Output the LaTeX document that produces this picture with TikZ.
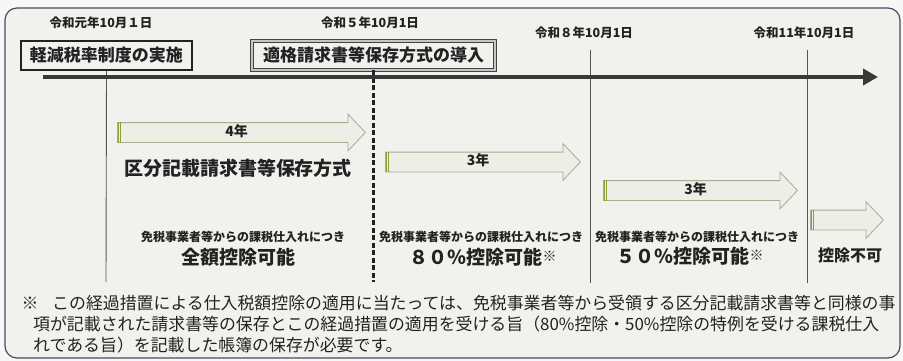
\documentclass[tikz,border=0pt]{standalone}
\usepackage{fontspec}
\newfontfamily\cjk{Noto Sans CJK JP}
\usetikzlibrary{shapes.arrows,arrows.meta}
\definecolor{frame}{HTML}{454E60}
\definecolor{panel}{HTML}{F1F1EE}
\definecolor{page}{HTML}{F7F7F5}
\definecolor{ink}{HTML}{222222}
\definecolor{arrowfill}{HTML}{EDEEE6}
\definecolor{arrowline}{HTML}{A8AC92}
\definecolor{tailbar}{HTML}{8E9E3A}
\definecolor{vline}{HTML}{555555}
\tikzset{
  cjkbase/.style={font=\cjk, text=ink, inner sep=0pt},
  datelbl/.style={cjkbase, font=\cjk\bfseries\fontsize{12.5}{14}\selectfont},
  boxlbl/.style={cjkbase, font=\cjk\bfseries\fontsize{17}{19}\selectfont, draw=ink, line width=1.3pt, minimum height=29pt},
  biglbl/.style={cjkbase, font=\cjk\bfseries\fontsize{19}{21}\selectfont},
  smalllbl/.style={cjkbase, font=\cjk\bfseries\fontsize{12}{13}\selectfont},
  notelbl/.style={cjkbase, font=\cjk\fontsize{16.9}{19}\selectfont, anchor=west},
  periodarrow/.style={single arrow, draw=arrowline, fill=arrowfill, line width=0.8pt,
    single arrow tip angle=93, single arrow head extend=8.5pt,
    font=\cjk\bfseries\fontsize{14}{16}\selectfont, text=ink,
    text height=10pt, text depth=3pt, inner xsep=0pt, inner ysep=3pt, anchor=tail},
  tailmark/.style={draw=tailbar, line width=1pt},
  gridline/.style={draw=vline, line width=0.9pt},
}
\begin{document}
\begin{tikzpicture}[x=1pt,y=-1pt]
\useasboundingbox[fill=page] (0,0) rectangle (903,361);
\draw[frame, rounded corners=12pt, line width=1.2pt, fill=panel] (5,8) rectangle (900,358);

% dates
\node[datelbl] (d1) at (101,23) {令和元年10月１日};
\node[datelbl] (d2) at (370,23) {令和５年10月1日};
\node[datelbl] (d3) at (584,33) {令和８年10月1日};
\node[datelbl] (d4) at (804,33) {令和11年10月1日};

% boxes
\node[boxlbl, minimum width=171pt] (b1) at (106.5,55.5) {軽減税率制度の実施};
\node[boxlbl, minimum width=243pt, draw=ink!85, line width=0.8pt, double=gray!45, double distance=1.6pt] (b2) at (373.5,55.5) {適格請求書等保存方式の導入};

% vertical lines
\coordinate (e1) at (106,282);
\coordinate (e2) at (373.5,282);
\coordinate (e3) at (590,283);
\coordinate (e4) at (807,283);
\coordinate (t3) at (590,50);
\coordinate (t4) at (807,50);
\draw[gridline] (b1.south) -- (e1);
\draw[ink, dashed, line width=2.2pt, dash pattern=on 5pt off 2.5pt] (b2.south) -- (e2);
\draw[gridline] (t3) -- (e3);
\draw[gridline] (t4) -- (e4);

% timeline
\coordinate (tl0) at (43,77);
\coordinate (tl1) at (878,77);
\draw[ink!90, line width=4pt, -{Triangle[length=15pt,width=16pt]}] (tl0) -- (tl1);

% period arrows
\node[periodarrow, minimum height=248pt] (a1) at (117,132.5) {4年};
\node[periodarrow, minimum height=195pt] (a2) at (385,162) {3年};
\node[periodarrow, minimum height=194pt] (a3) at (603,190.5) {3年};
\node[periodarrow, minimum height=73pt] (a4) at (810,220) {};
\foreach \a in {a1,a2,a3,a4}{
  \draw[tailmark] ([xshift=1.2pt]\a.before tail) -- ([xshift=1.2pt]\a.after tail);
  \draw[tailmark] ([xshift=3.6pt]\a.before tail) -- ([xshift=3.6pt]\a.after tail);
}

% labels
\node[biglbl] (m0) at (238,168) {区分記載請求書等保存方式};
\node[smalllbl] (s1) at (243,237) {免税事業者等からの課税仕入れにつき};
\node[biglbl] (m1) at (238,257) {全額控除可能};
\node[smalllbl] (s2) at (481,237) {免税事業者等からの課税仕入れにつき};
\node[biglbl] (m2) at (483,257) {８０％控除可能\raisebox{3pt}{\fontsize{14}{14}\selectfont ※}};
\node[smalllbl] (s3) at (697,237) {免税事業者等からの課税仕入れにつき};
\node[biglbl] (m3) at (690,256) {５０％控除可能\raisebox{3pt}{\fontsize{14}{14}\selectfont ※}};
\node[biglbl, font=\cjk\bfseries\fontsize{16}{18}\selectfont] (m4) at (850,255) {控除不可};

% footnote
\node[notelbl, anchor=center] (n0) at (30,303) {※};
\node[notelbl] (n1) at (52,303) {この経過措置による仕入税額控除の適用に当たっては、免税事業者等から受領する区分記載請求書等と同様の事};
\node[notelbl] (n2) at (33,324) {項が記載された請求書等の保存とこの経過措置の適用を受ける旨（80\%控除・50\%控除の特例を受ける課税仕入};
\node[notelbl] (n3) at (33,345) {れである旨）を記載した帳簿の保存が必要です。};
\end{tikzpicture}
\end{document}
